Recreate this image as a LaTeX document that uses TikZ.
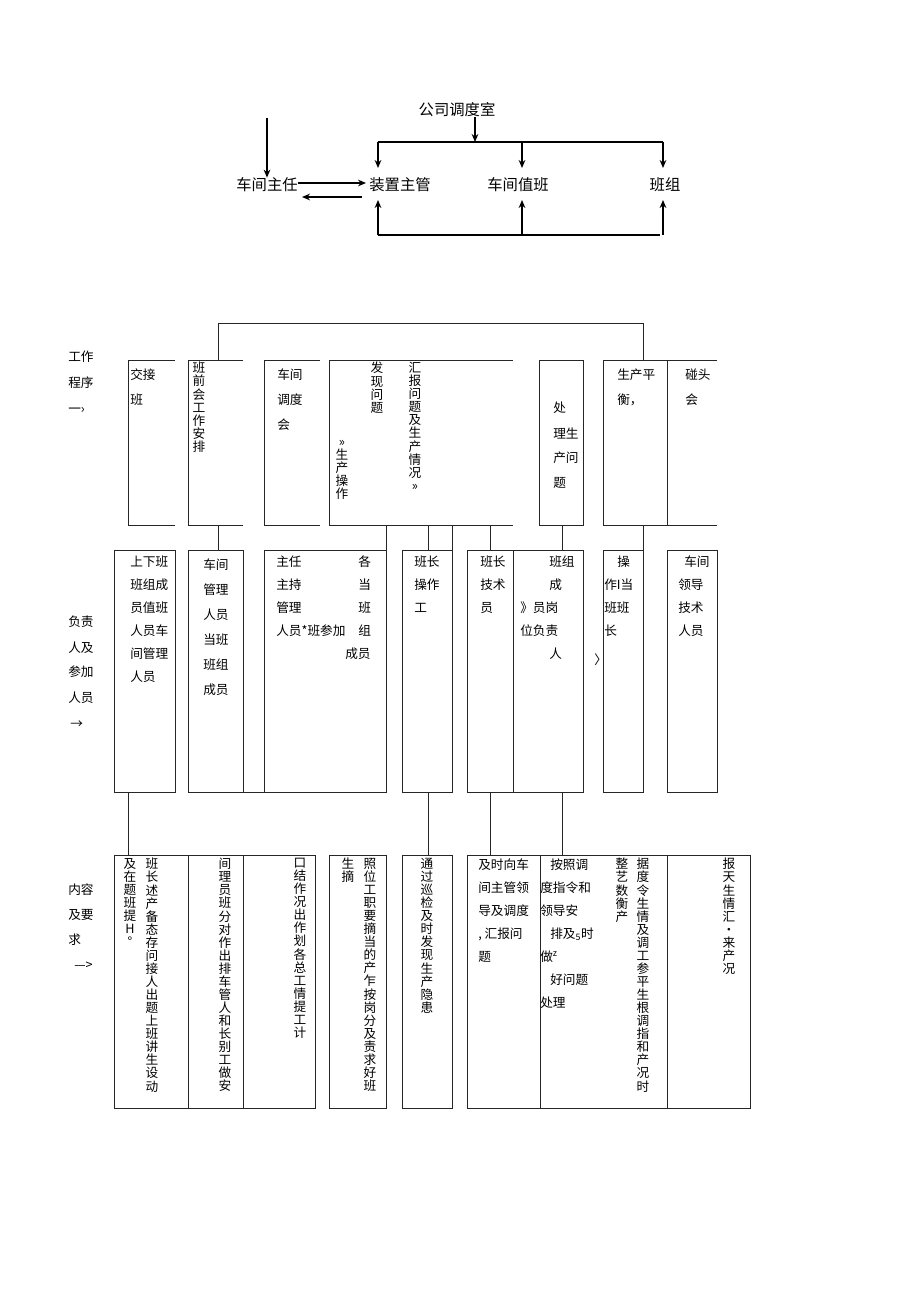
\documentclass[tikz,border=0pt]{standalone}
\usepackage{fontspec}
\setmainfont{Noto Sans CJK SC}
\usetikzlibrary{arrows.meta}
\ExplSyntaxOn
\NewDocumentCommand\vstk{m}{\vbox{\baselineskip=9.8pt\lineskiplimit=-10pt\tl_map_inline:nn{#1}{\hbox~to~1.05em{\hss##1\hss}}}}
\ExplSyntaxOff
\tikzset{ln/.style={line width=0.6pt,draw=black!85},
 ar/.style={line width=1.1pt,-{Stealth[length=6pt,width=5pt]}},
 big/.style={font=\fontsize{11.5}{13}\selectfont,inner sep=0pt},
 tx/.style={font=\fontsize{9.5}{11}\selectfont,inner sep=0pt,anchor=west},
 vc/.style={font=\fontsize{9.5}{11}\selectfont,inner sep=0pt,anchor=north}}
\begin{document}
\begin{tikzpicture}[x=0.75pt,y=-0.75pt]
\useasboundingbox (0,0) rectangle (920,1301);
% top section
\node[big] (gs) at (457,110) {公司调度室};
\node[big] (zr) at (267,185) {车间主任};
\node[big] (zg) at (400,185) {装置主管};
\node[big] (zb) at (518,185) {车间值班};
\node[big] (bz) at (665,185) {班组};
\coordinate (t1) at (475,142);
\draw[ar] (gs.south -| t1) -- (t1);
\draw[line width=1.1pt] (378,142) -- (663,142);
\draw[ar] (378,142) -- (378,168);
\draw[ar] (522,142) -- (522,168);
\draw[ar] (663,142) -- (663,168);
\draw[ar] (267,118) -- (zr.north);
\draw[ar] (zr.east |- 0,183) -- (366,183);
\draw[ar] (362,197) -- (302,197);
\draw[line width=1.1pt] (378,235) -- (660,235);
\draw[ar] (378,235) -- (378,200);
\draw[ar] (522,235) -- (522,200);
\draw[ar] (663,235) -- (663,200);
% row labels
\node[tx] (l1) at (68,357) {工作};
\node[tx] (l2) at (68,383) {程序};
\node[tx] (l3) at (68,410) {一›};
\node[tx] (m1) at (68,622) {负责};
\node[tx] (m2) at (68,648) {人及};
\node[tx] (m3) at (68,672) {参加};
\node[tx] (m4) at (68,698) {人员};
\node[tx] (m5) at (70,725) {→};
\node[tx] (n1) at (68,890) {内容};
\node[tx] (n2) at (68,915) {及要};
\node[tx] (n3) at (68,940) {求};
\node[tx] (n4) at (74,966) {--->};
% row 1 boxes
\draw[ln] (175,360)--(128,360)--(128,525)--(175,525);
\draw[ln] (243,360)--(188,360)--(188,525)--(243,525);
\draw[ln] (320,360)--(264,360)--(264,525)--(320,525);
\draw[ln] (513,360)--(329,360)--(329,525)--(513,525);
\draw[ln] (539,360) rectangle (583,525);
\draw[ln] (717,360)--(603,360)--(603,525)--(717,525);
\draw[ln] (667,360)--(667,525);
\draw[ln] (218,360)--(218,323)--(643,323)--(643,360);
% row 1 text
\node[tx] (a1) at (130,375) {交接};
\node[tx] (a2) at (130,400) {班};
\node[vc] (b1) at (199,362) {\vstk{班前会工作安排}};
\node[tx] (c1) at (277,375) {车间};
\node[tx] (c2) at (277,400) {调度};
\node[tx] (c3) at (277,425) {会};
\node[vc] (d1) at (377,362) {\vstk{发现问题}};
\node[vc] (d2) at (415,362) {\vstk{汇报问题及生产情况»}};
\node[vc] (d3) at (342,440) {\vstk{»生产操作}};
\node[tx] (e1) at (553,408) {处};
\node[tx] (e2) at (553,433) {理生};
\node[tx] (e3) at (553,458) {产问};
\node[tx] (e4) at (553,483) {题};
\node[tx] (f1) at (617,375) {生产平};
\node[tx] (f2) at (617,400) {衡，};
\node[tx] (g1) at (685,375) {碰头};
\node[tx] (g2) at (685,400) {会};
% connectors row1-row2
\foreach \x in {218,386,428,452,490,562,643} \draw[ln] (\x,525)--(\x,550);
% row 2 boxes
\draw[ln] (114,550) rectangle (175,792);
\draw[ln] (188,550) rectangle (243,792);
\draw[ln] (264,550) rectangle (386,792);
\draw[ln] (243,792)--(264,792);
\draw[ln] (402,550) rectangle (452,792);
\draw[ln] (467,550) rectangle (583,792);
\draw[ln] (513,550)--(513,792);
\draw[ln] (603,550) rectangle (643,792);
\draw[ln] (667,550) rectangle (717,792);
\node[tx] (q) at (594,660) {〉};
% row 2 text
\foreach \t [count=\i] in {上下班,班组成,员值班,人员车,间管理,人员}
  \node[tx] (p1\i) at (130,539+23*\i) {\t};
\foreach \t [count=\i] in {车间,管理,人员,当班,班组,成员}
  \node[tx] (p2\i) at (203,540+25*\i) {\t};
\foreach \t [count=\i] in {主任,主持,管理,人员*班参加}
  \node[tx] (p3\i) at (276,539+23*\i) {\t};
\foreach \t [count=\i] in {各,当,班,组}
  \node[tx] (p4\i) at (358,539+23*\i) {\t};
\node[tx] (p45) at (345,654) {成员};
\foreach \t [count=\i] in {班长,操作,工}
  \node[tx] (p5\i) at (414,539+23*\i) {\t};
\foreach \t [count=\i] in {班长,技术,员}
  \node[tx] (p6\i) at (480,539+23*\i) {\t};
\node[tx] (p71) at (549,562) {班组};
\node[tx] (p72) at (549,585) {成};
\node[tx] (p73) at (520,608) {》员岗};
\node[tx] (p74) at (520,631) {位负责};
\node[tx] (p75) at (549,654) {人};
\node[tx] (p81) at (617,562) {操};
\node[tx] (p82) at (604,585) {作I当};
\node[tx] (p83) at (604,608) {班班};
\node[tx] (p84) at (604,631) {长};
\node[tx] (p91) at (684,562) {车间};
\foreach \t [count=\i] in {领导,技术,人员}
  \node[tx] (p9\i x) at (678,562+23*\i) {\t};
% connectors row2-row3
\foreach \x in {128,428,490,562} \draw[ln] (\x,792)--(\x,855);
% row 3 boxes
\draw[ln] (114,855) rectangle (315,1108);
\draw[ln] (188,855)--(188,1108);
\draw[ln] (243,855)--(243,1108);
\draw[ln] (329,855) rectangle (386,1108);
\draw[ln] (402,855) rectangle (452,1108);
\draw[ln] (467,855) rectangle (750,1108);
\draw[ln] (540,855)--(540,1108);
\draw[ln] (667,855)--(667,1108);
% row 3 text
\node[vc] (r1) at (152,858) {\vstk{班长述产备态存问接人出题上班讲生设动}};
\node[vc] (r2) at (130,858) {\vstk{及在题班提H°}};
\node[vc] (r3) at (225,858) {\vstk{间理员班分对作出排车管人和长别工做安}};
\node[vc] (r4) at (300,858) {\vstk{口结作况出作划各总工情提工计}};
\node[vc] (r5) at (370,858) {\vstk{照位工职要摘当的产乍按岗分及责求好班}};
\node[vc] (r6) at (348,858) {\vstk{生摘}};
\node[vc] (r7) at (427,858) {\vstk{通过巡检及时发现生产隐患}};
\foreach \t [count=\i] in {及时向车,间主管领,导及调度,{, 汇报问},题}
  \node[tx] (s\i) at (478,842+23*\i) {\t};
\node[tx] (u1) at (550,865) {按照调};
\node[tx] (u2) at (540,888) {度指令和};
\node[tx] (u3) at (540,911) {领导安};
\node[tx] (u4) at (550,934) {排及\textsubscript{5}时};
\node[tx] (u5) at (540,957) {做\textsuperscript{z}};
\node[tx] (u6) at (550,980) {好问题};
\node[tx] (u7) at (540,1003) {处理};
\node[vc] (r8) at (643,858) {\vstk{据度令生情及调工参平生根调指和产况时}};
\node[vc] (r9) at (622,858) {\vstk{整艺数衡产}};
\node[vc] (r10) at (729,858) {\vstk{报天生情汇•来产况}};
\end{tikzpicture}
\end{document}
